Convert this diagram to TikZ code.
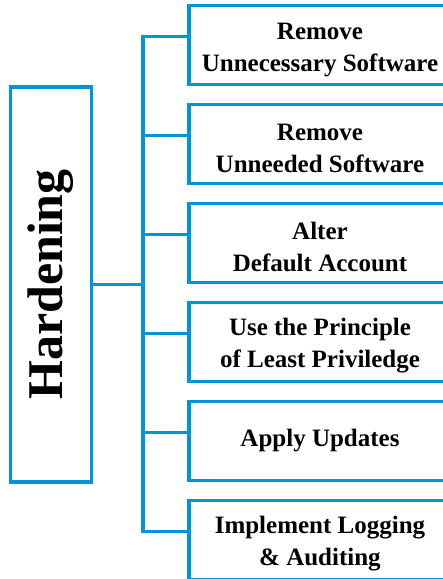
\documentclass[tikz,border=0pt]{standalone}
\usepackage{fontspec}
\setmainfont{Liberation Serif}
\usetikzlibrary{positioning}
\definecolor{hblue}{RGB}{0,149,218}
\newcommand{\lift}{\rule{0pt}{25.5pt}}

\tikzset{
  itembox/.style={draw=hblue, line width=3.2pt, outer sep=0pt, inner sep=0pt,
    minimum width=262pt, minimum height=79pt, align=center,
    font=\fontsize{25}{32}\selectfont\bfseries},
  mainbox/.style={draw=hblue, line width=3.2pt, outer sep=0pt, rotate=90,
    minimum width=395pt, minimum height=81pt,
    font=\fontsize{50}{60}\selectfont\bfseries},
  branch/.style={draw=hblue, line width=3.2pt},
}

\begin{document}
\begin{tikzpicture}[x=1pt, y=-1pt, node distance=20pt]
    \useasboundingbox (0,0) rectangle (443,579);
    \clip (0,0) rectangle (443,579);

    % Root
    \node[mainbox] (hard) at (51,284.5) {Hardening};

    % Steps
    \node[itembox] (b1) at (320,45) {\lift Remove\\Unnecessary Software};
    \node[itembox, below=of b1] (b2) {\lift Remove\\Unneeded Software};
    \node[itembox, below=of b2] (b3) {\lift Alter\\Default Account};
    \node[itembox, below=of b3] (b4) {\lift Use the Principle\\of Least Priviledge};
    \node[itembox, below=of b4] (b5) {Apply Updates};
    \node[itembox, below=of b5] (b6) {\lift Implement Logging\\\& Auditing};

    % Connectors
    \coordinate (trunk) at (143,0);
    \foreach \b in {b1,b2,b3,b4,b5,b6}
      \coordinate (\b-in) at ([yshift=8.5pt]\b.west);
    \draw[branch] (b1-in) -| (trunk |- b6-in) -- (b6-in);
    \foreach \b in {b2,b3,b4,b5}
      \draw[branch] (\b-in) -- (trunk |- \b-in);
    \draw[branch] (hard.south) -- (trunk |- hard.south);
\end{tikzpicture}
\end{document}
